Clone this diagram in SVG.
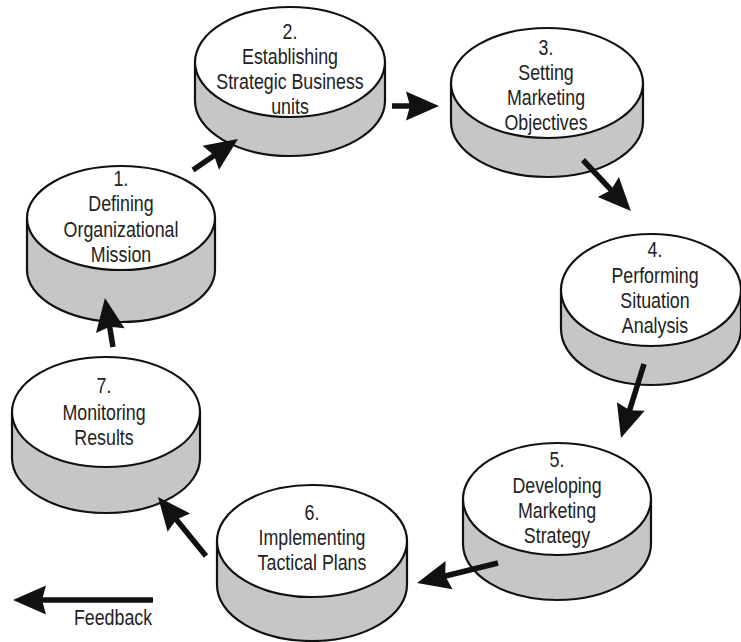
<svg xmlns="http://www.w3.org/2000/svg" width="741" height="642" viewBox="0 0 741 642">
<defs>
<style>
.side{fill:#c6c6c6;stroke:#111;stroke-width:2.2;stroke-linejoin:round}
.top{fill:#fff;stroke:#111;stroke-width:2.2}
.lbl{font-family:"Liberation Sans",Arial,sans-serif;font-size:22px;fill:#222;text-anchor:middle}
.conn{stroke:#111;stroke-width:5.5;fill:none;marker-end:url(#ah)}
</style>
<marker id="ah" markerUnits="userSpaceOnUse" markerWidth="34" markerHeight="30" viewBox="0 -15 34 30" refX="8" refY="0" orient="auto" overflow="visible">
<path d="M0,-14.5 L33,0 L0,14.5 L4,0 Z" fill="#111"/>
</marker>
</defs>
<rect width="741" height="642" fill="#fff"/>

<g id="node1">
<path class="side" d="M27,218 L27,270 A94,52 0 0 0 215,270 L215,218 Z"/>
<ellipse class="top" cx="121" cy="218" rx="94" ry="52"/>
<g transform="translate(121,0) scale(0.81,1)"><text class="lbl"><tspan x="0" y="186">1.</tspan><tspan x="0" y="211.5">Defining</tspan><tspan x="0" y="237">Organizational</tspan><tspan x="0" y="262">Mission</tspan></text></g>
</g>

<g id="node2">
<path class="side" d="M195,62 L195,101 A95,55 0 0 0 385,101 L385,62 Z"/>
<ellipse class="top" cx="290" cy="62" rx="95" ry="55"/>
<g transform="translate(290,0) scale(0.81,1)"><text class="lbl"><tspan x="0" y="39">2.</tspan><tspan x="0" y="64">Establishing</tspan><tspan x="0" y="89">Strategic Business</tspan><tspan x="0" y="114">units</tspan></text></g>
</g>

<g id="node3">
<path class="side" d="M451,83 L451,122 A96,55 0 0 0 643,122 L643,83 Z"/>
<ellipse class="top" cx="547" cy="83" rx="96" ry="55"/>
<g transform="translate(546,0) scale(0.81,1)"><text class="lbl"><tspan x="0" y="55">3.</tspan><tspan x="0" y="80">Setting</tspan><tspan x="0" y="105">Marketing</tspan><tspan x="0" y="130">Objectives</tspan></text></g>
</g>

<g id="node4">
<path class="side" d="M561,290 L561,329 A90,56 0 0 0 741,329 L741,290 Z"/>
<ellipse class="top" cx="651" cy="290" rx="90" ry="56"/>
<g transform="translate(655,0) scale(0.81,1)"><text class="lbl"><tspan x="0" y="257">4.</tspan><tspan x="0" y="283">Performing</tspan><tspan x="0" y="308">Situation</tspan><tspan x="0" y="333">Analysis</tspan></text></g>
</g>

<g id="node5">
<path class="side" d="M463,499 L463,544 A94,56 0 0 0 651,544 L651,499 Z"/>
<ellipse class="top" cx="557" cy="499" rx="94" ry="56"/>
<g transform="translate(557,0) scale(0.81,1)"><text class="lbl"><tspan x="0" y="467">5.</tspan><tspan x="0" y="493">Developing</tspan><tspan x="0" y="518">Marketing</tspan><tspan x="0" y="543">Strategy</tspan></text></g>
</g>

<g id="node6">
<path class="side" d="M217,541 L217,585 A95,56 0 0 0 407,585 L407,541 Z"/>
<ellipse class="top" cx="312" cy="541" rx="95" ry="56"/>
<g transform="translate(312,0) scale(0.81,1)"><text class="lbl"><tspan x="0" y="520">6.</tspan><tspan x="0" y="545">Implementing</tspan><tspan x="0" y="570">Tactical Plans</tspan></text></g>
</g>

<g id="node7">
<path class="side" d="M12,412 L12,458 A94,55 0 0 0 200,458 L200,412 Z"/>
<ellipse class="top" cx="106" cy="412" rx="94" ry="55"/>
<g transform="translate(104,0) scale(0.81,1)"><text class="lbl"><tspan x="0" y="393">7.</tspan><tspan x="0" y="420">Monitoring</tspan><tspan x="0" y="445">Results</tspan></text></g>
</g>

<g id="connectors">
<line class="conn" x1="193" y1="170" x2="217.4" y2="153.2"/>
<line class="conn" x1="392" y1="106" x2="414" y2="106"/>
<line class="conn" x1="583" y1="160" x2="613.8" y2="192.8"/>
<line class="conn" x1="644" y1="364" x2="628.4" y2="414.1"/>
<line class="conn" x1="498" y1="563" x2="441.3" y2="577"/>
<line class="conn" x1="206" y1="556" x2="173.8" y2="516.4"/>
<line class="conn" x1="113" y1="347" x2="109" y2="322.7"/>
<line class="conn" x1="153" y1="600" x2="38" y2="600"/>
</g>

<g id="feedback-label" transform="translate(113,0) scale(0.81,1)"><text class="lbl" x="0" y="625">Feedback</text></g>
</svg>
